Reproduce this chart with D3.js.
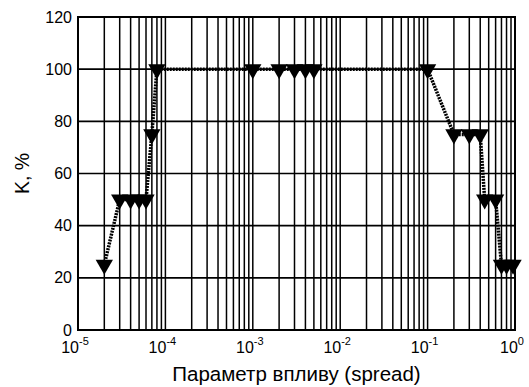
<!DOCTYPE html>
<html>
<head>
<meta charset="utf-8">
<script src="https://cdn.jsdelivr.net/npm/d3@7"></script>
<style>
  body { margin: 0; background: #fff; }
  text { font-family: "Liberation Sans", Arial, sans-serif; fill: #000; }
</style>
</head>
<body>
<svg id="chart" width="529" height="387"></svg>
<script>
// data
let spread = [2e-5, 3e-5, 4e-5, 5e-5, 6e-5, 7e-5, 8e-5,
    1e-3, 2e-3, 3e-3, 4e-3, 5e-3,
    0.1, 0.2, 0.3, 0.4, 0.45, 0.6, 0.7, 0.8, 0.95];
let kval = [25, 50, 50, 50, 50, 75, 100,
    100, 100, 100, 100, 100,
    100, 75, 75, 75, 50, 50, 25, 25, 25];
let yTicks = [0, 20, 40, 60, 80, 100, 120];
let xExp = [-5, -4, -3, -2, -1, 0];

let svg = d3.select('#chart');
let m = {l: 78, r: 515, t: 17, b: 330};

let x = d3.scaleLog().domain([1e-5, 1]).range([m.l, m.r]);
let y = d3.scaleLinear().domain([0, 120]).range([m.b, m.t]);

// minor + major log grid
let g = svg.append('g');
let xs = [];
for (let e = -5; e < 0; e++) {
    for (let k = 1; k < 10; k++) xs.push(k * Math.pow(10, e));
}
xs.push(1);
g.selectAll('.vg').data(xs).enter().append('line')
    .attr('x1', d => x(d)).attr('x2', d => x(d))
    .attr('y1', m.t).attr('y2', m.b)
    .attr('stroke', '#000').attr('stroke-width', 1.5);

g.selectAll('.hg').data(yTicks).enter().append('line')
    .attr('x1', m.l).attr('x2', m.r)
    .attr('y1', d => y(d)).attr('y2', d => y(d))
    .attr('stroke', '#000').attr('stroke-width', 1.7);

svg.append('rect')
    .attr('x', m.l).attr('y', m.t).attr('width', m.r - m.l).attr('height', m.b - m.t)
    .attr('fill', 'none').attr('stroke', '#000').attr('stroke-width', 2);

// y tick labels
svg.selectAll('.yl').data(yTicks).enter().append('text')
    .attr('x', m.l - 6).attr('y', d => y(d) + 5.5)
    .attr('text-anchor', 'end').style('font-size', '16px')
    .text(d => d);

// x tick labels 10^n
let xl = svg.selectAll('.xl').data(xExp).enter().append('text')
    .attr('x', d => x(Math.pow(10, d)) - 3).attr('y', m.b + 23)
    .attr('text-anchor', 'middle').style('font-size', '16px');
xl.append('tspan').text('10');
xl.append('tspan').attr('dy', -8).style('font-size', '11px').text(d => d);

// titles
svg.append('text')
    .attr('x', (m.l + m.r) / 2).attr('y', 381)
    .attr('text-anchor', 'middle').style('font-size', '20.5px')
    .text('Параметр впливу (spread)');

svg.append('text')
    .attr('transform', 'translate(29,' + ((m.t + m.b) / 2) + ') rotate(-90)')
    .attr('text-anchor', 'middle').style('font-size', '19.5px')
    .text('K, %');

// series line
let pts = spread.map((d, i) => [d, kval[i]]);
let line = d3.line().x(d => x(d[0])).y(d => y(d[1]));

svg.append('path')
    .attr('d', line(pts))
    .attr('fill', 'none').attr('stroke', '#000')
    .attr('stroke-width', 3.5).attr('stroke-dasharray', '2,1');

// down triangle markers
let tri = d3.symbol().type(d3.symbolTriangle).size(130);
svg.selectAll('.mk').data(pts).enter().append('path')
    .attr('d', tri)
    .attr('transform', d => 'translate(' + x(d[0]) + ',' + y(d[1]) + ') rotate(180)')
    .attr('fill', '#000');
</script>
</body>
</html>
